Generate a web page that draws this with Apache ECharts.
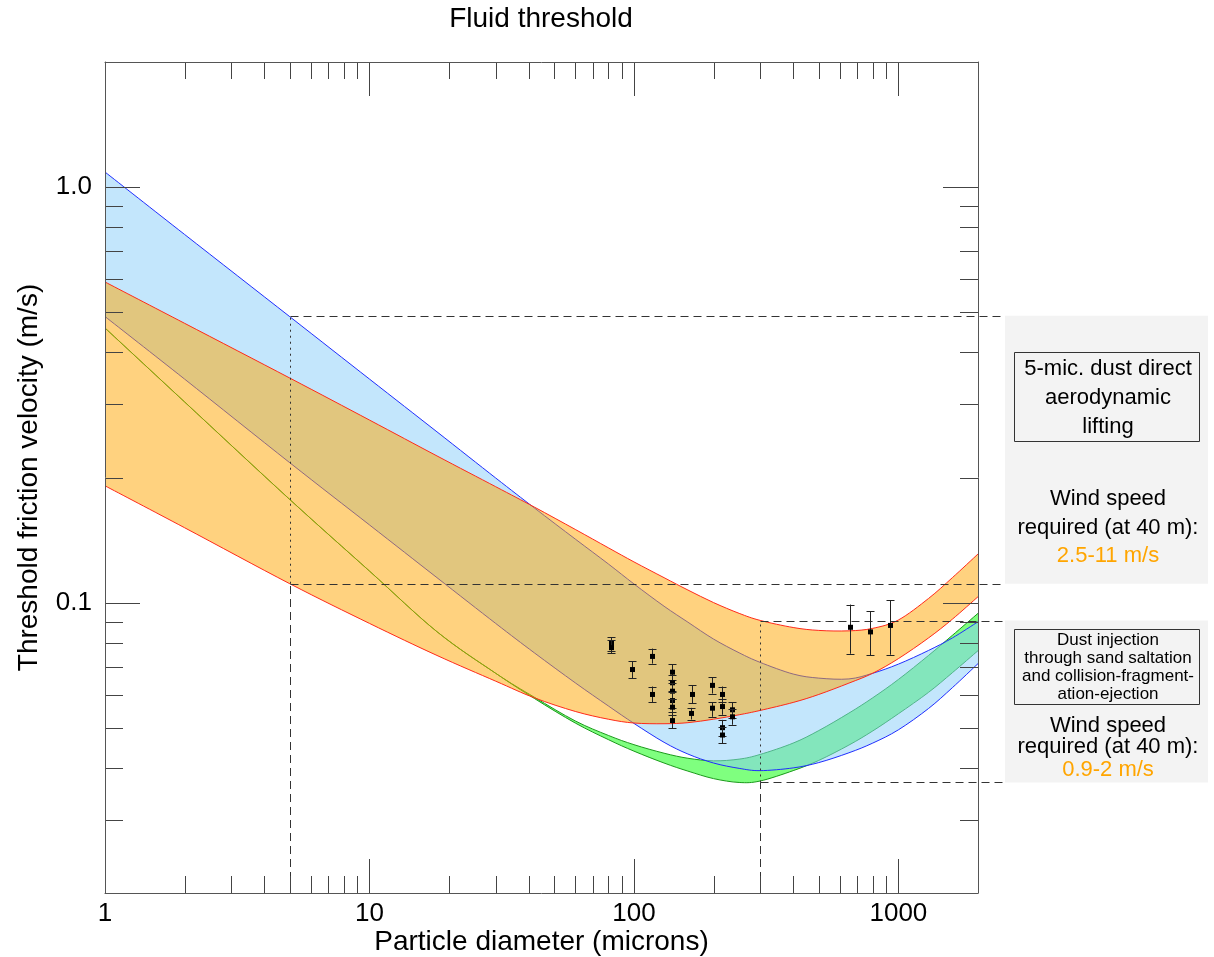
<!DOCTYPE html>
<html>
<head>
<meta charset="utf-8">
<title>Fluid threshold</title>
<script src="https://cdn.jsdelivr.net/npm/echarts@6.0.0/dist/echarts.min.js"></script>
<style>
  html, body { margin: 0; padding: 0; background: #fff; }
  #chart { width: 1214px; height: 957px; }
</style>
</head>
<body>
<div id="chart"></div>
<script>
// particle diameter (microns) where the band edges were read
const diameters = [1, 2, 5, 10, 18, 30, 42, 60, 80, 100, 130, 160, 200, 250, 300, 400, 500, 650, 800, 1000, 1300, 1600, 2000]

// threshold friction velocity (m/s) along each band edge
const blueUpper = [1.087, 0.769, 0.4875, 0.3451, 0.2576, 0.1995, 0.1690, 0.1422, 0.1239, 0.1109, 0.0980, 0.0897, 0.0817, 0.0757, 0.0718, 0.0673, 0.0658, 0.0655, 0.0676, 0.0711, 0.0767, 0.0822, 0.0899]
const blueLower = [0.488, 0.345, 0.217, 0.1538, 0.1148, 0.0891, 0.0757, 0.0641, 0.0564, 0.0512, 0.0461, 0.0432, 0.0411, 0.0399, 0.0394, 0.0400, 0.0412, 0.0435, 0.0459, 0.0494, 0.0556, 0.0624, 0.0713]
const orangeUpper = [0.591, 0.470, 0.347, 0.275, 0.2254, 0.1901, 0.1698, 0.1500, 0.1355, 0.1253, 0.1148, 0.1072, 0.1000, 0.0942, 0.0906, 0.0871, 0.0857, 0.0855, 0.0867, 0.0908, 0.1023, 0.1148, 0.1309]
const orangeLower = [0.191, 0.1514, 0.111, 0.0891, 0.0746, 0.0647, 0.0590, 0.0547, 0.0524, 0.0513, 0.0511, 0.0514, 0.0524, 0.0537, 0.0550, 0.0575, 0.0601, 0.0640, 0.0676, 0.0733, 0.0822, 0.0912, 0.1033]
const greenUpper = [0.458, 0.304, 0.177, 0.1191, 0.0851, 0.0676, 0.0592, 0.0519, 0.0479, 0.0455, 0.0434, 0.0422, 0.0416, 0.0420, 0.0431, 0.0459, 0.0492, 0.0542, 0.0590, 0.0653, 0.0746, 0.0834, 0.0942]
const greenLower = [0.458, 0.304, 0.177, 0.1191, 0.0851, 0.0676, 0.0588, 0.0513, 0.0468, 0.0439, 0.0411, 0.0393, 0.0377, 0.0369, 0.0372, 0.0394, 0.0417, 0.0454, 0.0491, 0.0540, 0.0608, 0.0678, 0.0766]

// measured thresholds with error bars
const measDiameter = [82, 82, 98, 117, 117, 139, 139, 139, 139, 139, 139, 164, 166, 197, 197, 215, 215, 215, 215, 234, 234, 659, 780, 926]
const measSpeed = [0.0797, 0.0779, 0.0690, 0.0742, 0.0601, 0.0680, 0.0641, 0.0612, 0.0581, 0.0560, 0.0520, 0.0541, 0.0601, 0.0632, 0.0557, 0.0601, 0.0562, 0.0500, 0.0480, 0.0552, 0.0531, 0.0872, 0.0850, 0.0881]
const measLow = [0.0763, 0.0755, 0.0657, 0.0713, 0.0575, 0.0650, 0.0613, 0.0586, 0.0556, 0.0536, 0.0498, 0.0523, 0.0572, 0.0604, 0.0531, 0.0575, 0.0537, 0.0478, 0.0459, 0.0528, 0.0508, 0.0753, 0.0746, 0.0749]
const measHigh = [0.0826, 0.0812, 0.0722, 0.0775, 0.0628, 0.0711, 0.0670, 0.0640, 0.0608, 0.0586, 0.0544, 0.0558, 0.0633, 0.0661, 0.0576, 0.0628, 0.0587, 0.0522, 0.0501, 0.0576, 0.0555, 0.0989, 0.0953, 0.1013]

// guide lines: diameter and friction-velocity range
const liftDiameter = 5
const liftRange = [0.111, 0.49]
const saltDiameter = 300
const saltRange = [0.0369, 0.0905]

// axes
const xMin = 1, xMax = 2000, yMin = 0.02, yMax = 2
const xMajor = [1, 10, 100, 1000]
const xMinor = [2, 3, 4, 5, 6, 7, 8, 9, 20, 30, 40, 50, 60, 70, 80, 90, 200, 300, 400, 500, 600, 700, 800, 900]
const yMajor = [0.1, 1]
const yMajorLabels = ['0.1', '1.0']
const yMinor = [0.03, 0.04, 0.05, 0.06, 0.07, 0.08, 0.09, 0.2, 0.3, 0.4, 0.5, 0.6, 0.7, 0.8, 0.9]

const font = 'Liberation Sans, Arial, Helvetica, sans-serif'
const near = (a, b) => Math.abs(Math.log10(a / b)) < 0.005
const crisp = v => Math.round(v) + 0.5

// catmull-rom through pixel points, as svg path
function curvePath(pts, cmd) {
  let d = cmd + pts[0][0].toFixed(2) + ' ' + pts[0][1].toFixed(2)
  for (let i = 0; i < pts.length - 1; i++) {
    const p0 = pts[i - 1] || pts[i]
    const p1 = pts[i]
    const p2 = pts[i + 1]
    const p3 = pts[i + 2] || p2
    const c1 = [p1[0] + (p2[0] - p0[0]) / 6, p1[1] + (p2[1] - p0[1]) / 6]
    const c2 = [p2[0] - (p3[0] - p1[0]) / 6, p2[1] - (p3[1] - p1[1]) / 6]
    d += ' C' + [c1[0], c1[1], c2[0], c2[1], p2[0], p2[1]].map(v => v.toFixed(2)).join(' ')
  }
  return d
}

function bandSeries(upper, lower, fill, stroke) {
  return {
    type: 'custom',
    silent: true,
    data: [[diameters[0], upper[0]]],
    renderItem: (params, api) => {
      const top = diameters.map((d, i) => api.coord([d, upper[i]]))
      const bottom = diameters.map((d, i) => api.coord([d, lower[i]])).reverse()
      return {
        type: 'group',
        children: [
          { type: 'path', shape: { pathData: curvePath(top, 'M') + curvePath(bottom, ' L') + ' Z' }, style: { fill: fill, stroke: null } },
          { type: 'path', shape: { pathData: curvePath(top, 'M') }, style: { fill: null, stroke: stroke, lineWidth: 1 } },
          { type: 'path', shape: { pathData: curvePath(bottom, 'M') }, style: { fill: null, stroke: stroke, lineWidth: 1 } },
        ],
      }
    },
  }
}

const line = (x1, y1, x2, y2, style) => ({ type: 'line', shape: { x1, y1, x2, y2 }, style })

const guideSeries = {
  type: 'custom',
  silent: true,
  data: [[liftDiameter, liftRange[0]]],
  renderItem: (params, api) => {
    const kids = []
    const dashed = { stroke: '#333', lineWidth: 1, lineDash: [8, 5] }
    const dotted = { stroke: '#333', lineWidth: 1, lineDash: [2, 4] }
    ;[[liftDiameter, liftRange], [saltDiameter, saltRange]].forEach(([d, r]) => {
      const base = api.coord([d, yMin])
      const lo = api.coord([d, r[0]])
      const hi = api.coord([d, r[1]])
      const xEdge = api.coord([xMax, r[0]])[0] + 25
      const x = crisp(lo[0])
      kids.push(line(x, base[1], x, lo[1], dashed))
      kids.push(line(x, lo[1], x, hi[1], dotted))
      kids.push(line(x, crisp(lo[1]), xEdge, crisp(lo[1]), dashed))
      kids.push(line(x, crisp(hi[1]), xEdge, crisp(hi[1]), dashed))
    })
    return { type: 'group', children: kids }
  },
}

const measSeries = {
  type: 'custom',
  silent: true,
  data: measDiameter.map((d, i) => [d, measSpeed[i], measLow[i], measHigh[i]]),
  encode: { x: 0, y: [1, 2, 3] },
  renderItem: (params, api) => {
    const p = api.coord([api.value(0), api.value(1)])
    const lo = api.coord([api.value(0), api.value(2)])
    const hi = api.coord([api.value(0), api.value(3)])
    const st = { stroke: '#222', lineWidth: 1 }
    const x = crisp(p[0])
    return {
      type: 'group',
      children: [
        line(x, lo[1], x, hi[1], st),
        line(x - 4, crisp(lo[1]), x + 4, crisp(lo[1]), st),
        line(x - 4, crisp(hi[1]), x + 4, crisp(hi[1]), st),
        { type: 'rect', shape: { x: x - 2.5, y: p[1] - 2.5, width: 5, height: 5 }, style: { fill: '#000' } },
      ],
    }
  },
}

const tickSeries = {
  type: 'custom',
  silent: true,
  z: 6,
  data: [[xMin, yMin]],
  renderItem: (params, api) => {
    const kids = []
    const st = { stroke: '#444', lineWidth: 1 }
    xMajor.map(v => [v, 34]).concat(xMinor.map(v => [v, 17])).forEach(([v, len]) => {
      const b = api.coord([v, yMin])
      const t = api.coord([v, yMax])
      const x = crisp(b[0])
      kids.push(line(x, b[1], x, b[1] - len, st))
      kids.push(line(x, t[1], x, t[1] + len, st))
    })
    yMajor.map(v => [v, 35]).concat(yMinor.map(v => [v, 18])).forEach(([v, len]) => {
      const l = api.coord([xMin, v])
      const r = api.coord([xMax, v])
      const y = crisp(l[1])
      kids.push(line(l[0], y, l[0] + len, y, st))
      kids.push(line(r[0], y, r[0] - len, y, st))
    })
    return { type: 'group', children: kids }
  },
}

function logAxis(extra) {
  return Object.assign({
    type: 'log',
    logBase: 10,
    z: 10,
    axisTick: { show: false },
    splitLine: { show: false },
    axisLine: { show: true, lineStyle: { color: '#555', width: 1 } },
  }, extra)
}

const option = {
  animation: false,
  backgroundColor: '#fff',
  grid: { left: 105, right: 236, top: 62, bottom: 64, containLabel: false, outerBoundsMode: 'none' },
  xAxis: [
    logAxis({
      min: xMin, max: xMax, position: 'bottom',
      name: 'Particle diameter (microns)', nameLocation: 'middle', nameGap: 35, nameMoveOverlap: false,
      nameTextStyle: { fontSize: 28, fontFamily: font, color: '#000' },
      axisLabel: {
        fontSize: 26, fontFamily: font, color: '#000', margin: 8,
        formatter: v => (xMajor.some(t => near(t, v)) ? String(Math.round(v)) : ''),
      },
    }),
    logAxis({ min: xMin, max: xMax, position: 'top', axisLabel: { show: false } }),
  ],
  yAxis: [
    logAxis({
      min: yMin, max: yMax, position: 'left',
      name: 'Threshold friction velocity (m/s)', nameLocation: 'middle', nameGap: 62, nameRotate: 90, nameMoveOverlap: false,
      nameTextStyle: { fontSize: 28, fontFamily: font, color: '#000' },
      axisLabel: {
        fontSize: 26, fontFamily: font, color: '#000', margin: 13,
        formatter: v => {
          const i = yMajor.findIndex(t => near(t, v))
          return i < 0 ? '' : yMajorLabels[i]
        },
      },
    }),
    logAxis({ min: yMin, max: yMax, position: 'right', axisLabel: { show: false } }),
  ],
  series: [
    bandSeries(greenUpper, greenLower, 'rgba(0,255,0,0.5)', '#1a9a1a'),
    bandSeries(blueUpper, blueLower, 'rgba(135,206,250,0.5)', '#1f2dff'),
    bandSeries(orangeUpper, orangeLower, 'rgba(255,165,0,0.5)', '#ff2a1a'),
    guideSeries,
    measSeries,
    tickSeries,
  ],
}

const chart = echarts.init(document.getElementById('chart'))
chart.setOption(option)

// side panel with the wind-speed notes, placed next to the guide lines
const toPx = (d, u) => chart.convertToPixel({ gridIndex: 0 }, [d, u])
const panelX = toPx(xMax, 1)[0] + 27
const panelW = 203
const midX = panelX + 103
const liftTop = toPx(liftDiameter, liftRange[1])[1]
const liftBottom = toPx(liftDiameter, liftRange[0])[1]
const saltTop = toPx(saltDiameter, saltRange[1])[1]
const saltBottom = toPx(saltDiameter, saltRange[0])[1]

const txt = (x, y, text, size, lineHeight, color) => ({
  type: 'text', x, y, z: 20,
  style: { text, fontSize: size, fontFamily: font, lineHeight, fill: color || '#000', align: 'center', verticalAlign: 'middle' },
})

chart.setOption({
  graphic: [
    txt(541, 19, 'Fluid threshold', 28, 32),
    { type: 'rect', z: 15, shape: { x: panelX, y: liftTop, width: panelW, height: liftBottom - liftTop }, style: { fill: '#f3f3f3' } },
    { type: 'rect', z: 15, shape: { x: panelX, y: saltTop, width: panelW, height: saltBottom - saltTop }, style: { fill: '#f3f3f3' } },
    { type: 'rect', z: 16, shape: { x: crisp(panelX + 9), y: crisp(liftTop + 36), width: 185, height: 89 }, style: { fill: null, stroke: '#333', lineWidth: 1 } },
    { type: 'rect', z: 16, shape: { x: crisp(panelX + 9), y: crisp(saltTop + 8), width: 185, height: 75 }, style: { fill: null, stroke: '#333', lineWidth: 1 } },
    txt(midX, liftTop + 82, '5-mic. dust direct\naerodynamic\nlifting', 22, 29),
    txt(midX, liftTop + 198, 'Wind speed\nrequired (at 40 m):', 22, 29),
    txt(midX, liftTop + 240, '2.5-11 m/s', 22, 29, '#ffa500'),
    txt(midX, saltTop + 47, 'Dust injection\nthrough sand saltation\nand collision-fragment-\nation-ejection', 17, 18),
    txt(midX, saltTop + 116, 'Wind speed\nrequired (at 40 m):', 22, 21),
    txt(midX, saltTop + 149, '0.9-2 m/s', 22, 21, '#ffa500'),
  ],
})
</script>
</body>
</html>
